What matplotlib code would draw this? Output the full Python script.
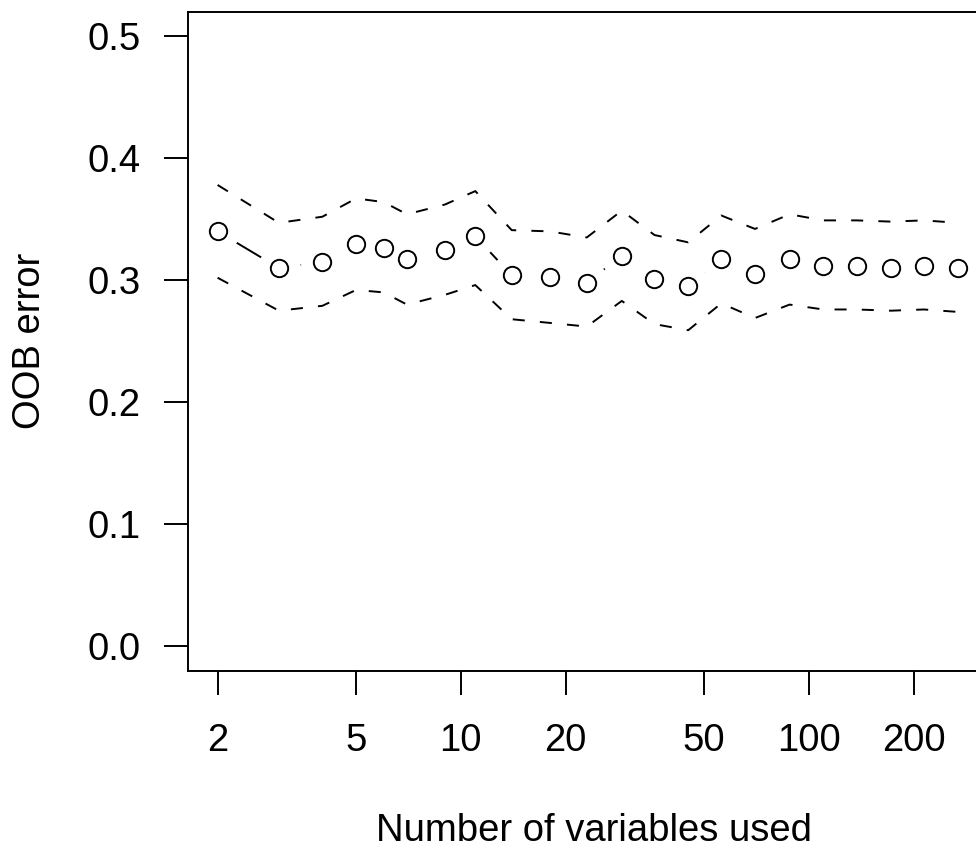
import matplotlib
matplotlib.use("Agg")
import matplotlib.pyplot as plt
from matplotlib.ticker import FixedLocator, NullLocator

# number of variables kept at each step
n_vars = [2, 3, 4, 5, 6, 7, 9, 11, 14, 18, 23, 29, 36, 45, 56, 70, 88, 110, 137, 172, 214, 268]
# mean OOB error and the band around it
oob_err = [0.340, 0.310, 0.315, 0.330, 0.326, 0.317, 0.325, 0.336, 0.304, 0.303, 0.298,
           0.320, 0.301, 0.295, 0.317, 0.305, 0.317, 0.312, 0.312, 0.310, 0.312, 0.310]
oob_upper = [0.378, 0.347, 0.352, 0.367, 0.364, 0.354, 0.362, 0.373, 0.341, 0.340, 0.335,
             0.357, 0.337, 0.331, 0.353, 0.342, 0.354, 0.349, 0.349, 0.348, 0.349, 0.347]
oob_lower = [0.302, 0.275, 0.279, 0.292, 0.290, 0.280, 0.288, 0.296, 0.268, 0.265, 0.262,
             0.283, 0.264, 0.259, 0.281, 0.269, 0.280, 0.276, 0.276, 0.275, 0.276, 0.274]

x_ticks = [2, 5, 10, 20, 50, 100, 200]
y_ticks = [0.0, 0.1, 0.2, 0.3, 0.4, 0.5]

plt.rcParams['font.family'] = ['Liberation Sans', 'DejaVu Sans']
fs = 27.5
lw = 1.4

fig = plt.figure(figsize=(9.76, 8.5), dpi=100)
# the plot box runs past the right edge of the image, like the original
ax = fig.add_axes([0.19262, 0.21094, 0.81926, 0.77529])

# type="b" style: line with gaps around the points
ax.plot(n_vars, oob_err, color='black', lw=lw, zorder=1)
ax.plot(n_vars, oob_err, linestyle='none', marker='o', markersize=31,
        markerfacecolor='white', markeredgecolor='none', zorder=2)
ax.plot(n_vars, oob_upper, color='black', lw=lw, dashes=(6.2, 7.8), zorder=3)
ax.plot(n_vars, oob_lower, color='black', lw=lw, dashes=(6.2, 7.8), zorder=3)
ax.plot(n_vars, oob_err, linestyle='none', marker='o', markersize=12.5,
        markerfacecolor='none', markeredgecolor='black', markeredgewidth=lw, zorder=4)

ax.set_xscale('log')
ax.set_xlim(1.6443, 326.1)
ax.set_ylim(-0.02, 0.52)

ax.xaxis.set_major_locator(FixedLocator(x_ticks))
ax.xaxis.set_minor_locator(NullLocator())
ax.set_xticklabels([str(t) for t in x_ticks])
ax.set_yticks(y_ticks)
ax.set_yticklabels(['%.1f' % t for t in y_ticks])

ax.tick_params(axis='both', length=17.3, width=lw, labelsize=fs, color='black')
ax.tick_params(axis='x', pad=20)
ax.tick_params(axis='y', pad=17)
for sp in ax.spines.values():
    sp.set_linewidth(lw)

fig.text(594 / 976, 9 / 850, 'Number of variables used', fontsize=fs,
         ha='center', va='baseline')
fig.text(30 / 976, 1 - 341 / 850, 'OOB error', fontsize=fs, rotation=90,
         ha='center', va='center')

fig.savefig('out.png', dpi=100)
